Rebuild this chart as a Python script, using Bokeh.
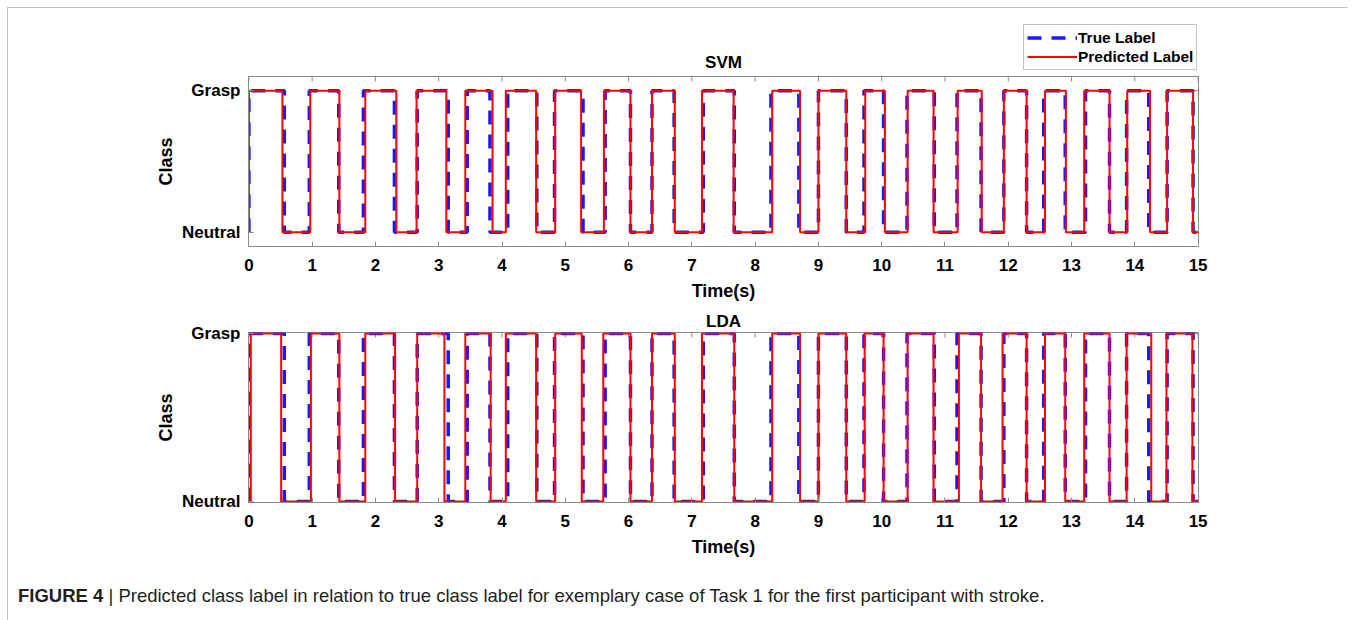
import math
from bokeh.plotting import figure
from bokeh.models import Range1d, FixedTicker, Legend, LegendItem, Div, Label
from bokeh.layouts import column
from bokeh.embed import file_html
from bokeh.resources import INLINE

# ---- data (change points in seconds; label toggles Neutral<->Grasp at each) ----
t_start = 0.0
t_end = 15.0
true_change = [0.0, 0.56, 0.955, 1.42, 1.81, 2.30, 2.66, 3.15, 3.45, 3.81, 4.09, 4.55,
               4.83, 5.28, 5.63, 6.03, 6.37, 6.72, 7.18, 7.67, 8.25, 8.69, 9.00, 9.44,
               9.72, 10.03, 10.40, 10.83, 11.19, 11.57, 11.93, 12.29, 12.56, 12.90,
               13.22, 13.60, 13.87, 14.22, 14.51, 14.92]
svm_change = [0.0, 0.53, 0.97, 1.43, 1.84, 2.33, 2.65, 3.12, 3.42, 3.85, 4.06, 4.54,
              4.84, 5.25, 5.61, 6.03, 6.37, 6.73, 7.16, 7.66, 8.27, 8.71, 9.00, 9.44,
              9.74, 10.05, 10.41, 10.82, 11.20, 11.58, 11.93, 12.29, 12.58, 12.91,
              13.20, 13.60, 13.88, 14.24, 14.51, 14.92]
lda_change = [0.03, 0.51, 0.98, 1.43, 1.84, 2.31, 2.66, 3.09, 3.42, 3.82, 4.06, 4.54,
              4.84, 5.26, 5.60, 6.03, 6.37, 6.73, 7.16, 7.67, 8.27, 8.71, 9.00, 9.44,
              9.73, 10.03, 10.41, 10.82, 11.22, 11.57, 11.91, 12.29, 12.58, 12.90,
              13.20, 13.60, 13.87, 14.26, 14.50, 14.91]
time_ticks = list(range(0, 16))
class_ticks = [0, 1]
class_labels = {0: "Neutral", 1: "Grasp"}
titles = ["SVM", "LDA"]
legend_labels = ["True Label", "Predicted Label"]
caption_bold = "FIGURE 4"
caption_text = ("Predicted class label in relation to true class label for exemplary case "
                "of Task 1 for the first participant with stroke.")

FONT = "Liberation Sans"
AX_GRAY = "#8a8a8a"
BLUE = "#0000ff"
RED = "#ff0000"
TRUE_STYLE = dict(line_color=BLUE, line_width=3.5, line_dash="14 10", line_alpha=0.9)
PRED_STYLE = dict(line_color=RED, line_width=2)
W = 1340
X_LO, X_HI = -0.006, 15.006
SIDE = dict(frame_width=950, min_border_left=240, min_border_right=150,
            output_backend="svg", toolbar_location=None,
            background_fill_color="white", border_fill_color="white")


def step_series(changes):
    xs = [t_start] + list(changes) + [t_end]
    ys = [0]
    state = 0
    for _ in changes:
        state = 1 - state
        ys.append(state)
    ys.append(state)
    return xs, ys


def make_plot(title, pred_changes, y_lo, y_hi, top, bottom):
    kw = dict(frame_height=170, x_range=Range1d(X_LO, X_HI), y_range=Range1d(y_lo, y_hi),
              min_border_top=top, min_border_bottom=bottom, **SIDE)
    if title is None:
        p = figure(title_location=None, **kw)
    else:
        p = figure(title=title, **kw)
        p.title.align = "center"
        p.title.text_font = FONT
        p.title.text_font_size = "17px"
        p.title.text_font_style = "bold"
        p.title.text_color = "black"
        p.title.standoff = 4
    p.grid.visible = False
    p.outline_line_color = AX_GRAY
    p.outline_line_width = 1

    xa = p.xaxis[0]
    xa.ticker = FixedTicker(ticks=time_ticks)
    xa.axis_label = "Time(s)"
    ya = p.yaxis[0]
    ya.ticker = FixedTicker(ticks=class_ticks)
    ya.major_label_overrides = class_labels
    ya.axis_label = "Class"
    for ax in (xa, ya):
        ax.major_tick_in = 5
        ax.major_tick_out = 0
        ax.minor_tick_in = 0
        ax.minor_tick_out = 0
        ax.axis_line_color = AX_GRAY
        ax.major_tick_line_color = AX_GRAY
        ax.major_label_text_font = FONT
        ax.major_label_text_font_size = "17px"
        ax.major_label_text_font_style = "bold"
        ax.major_label_text_color = "black"
        ax.axis_label_text_font = FONT
        ax.axis_label_text_font_size = "18px"
        ax.axis_label_text_font_style = "bold"
        ax.axis_label_text_color = "black"
    xa.major_label_standoff = 12
    xa.axis_label_standoff = 7
    ya.major_label_standoff = 8
    ya.axis_label_standoff = 3

    # box ticks on top and right edges (inward, half clipped by the frame)
    p.scatter(x=time_ticks, y=[y_hi] * len(time_ticks), marker="dash", size=10,
              angle=math.pi / 2, line_color=AX_GRAY, line_width=1)
    p.scatter(x=[X_HI] * len(class_ticks), y=class_ticks, marker="dash", size=10,
              line_color=AX_GRAY, line_width=1)

    tx, ty = step_series(true_change)
    px, py = step_series(pred_changes)
    p.step(tx, ty, mode="after", **TRUE_STYLE)
    p.step(px, py, mode="after", **PRED_STYLE)
    return p


# header strip holding the SVM title and the legend (drawn above the first axes)
hdr = figure(frame_height=63, x_range=Range1d(X_LO, X_HI), y_range=Range1d(0, 63),
             title_location=None, x_axis_location=None, y_axis_location=None,
             min_border_top=0, min_border_bottom=0, **SIDE)
hdr.grid.visible = False
hdr.outline_line_color = None
hdr.add_layout(Label(x=7.5, y=9.5, text=titles[0], text_align="center",
                     text_baseline="middle", text_font=FONT, text_font_size="17px",
                     text_font_style="bold", text_color="black"))
# legend-only renderers, placed outside the visible range
d_true = hdr.line(x=[-10, -9], y=[-10, -10], **TRUE_STYLE)
d_pred = hdr.line(x=[-10, -9], y=[-10, -10], **PRED_STYLE)
leg = Legend(items=[LegendItem(label=legend_labels[0], renderers=[d_true]),
                    LegendItem(label=legend_labels[1], renderers=[d_pred])],
             location=(775, 1), orientation="vertical",
             border_line_color=AX_GRAY, border_line_width=1,
             background_fill_color="white", background_fill_alpha=1,
             label_text_font=FONT, label_text_font_size="15.5px",
             label_text_font_style="bold", label_text_color="black",
             glyph_width=50, glyph_height=19, label_height=19,
             label_standoff=1, spacing=0, padding=3, margin=0)
hdr.add_layout(leg)

p1 = make_plot(None, svm_change, -0.1, 1.1, 5, 59)
p2 = make_plot(titles[1], lda_change, -0.006, 1.006, 27, 58)

cap = Div(text=f"<b>{caption_bold}</b> | {caption_text}", width=W, height=60, margin=0,
          styles={"font-family": "'Liberation Sans', sans-serif",
                  "font-size": "18.5px", "color": "#231f20", "padding-top": "23px",
                  "padding-left": "10px", "box-sizing": "border-box"})

layout = column(hdr, p1, p2, cap, margin=(7, 0, 0, 7),
                styles={"border-left": "1px solid #c4c4c4", "border-top": "1px solid #c4c4c4"})

open("out.html", "w").write(file_html(layout, INLINE))
